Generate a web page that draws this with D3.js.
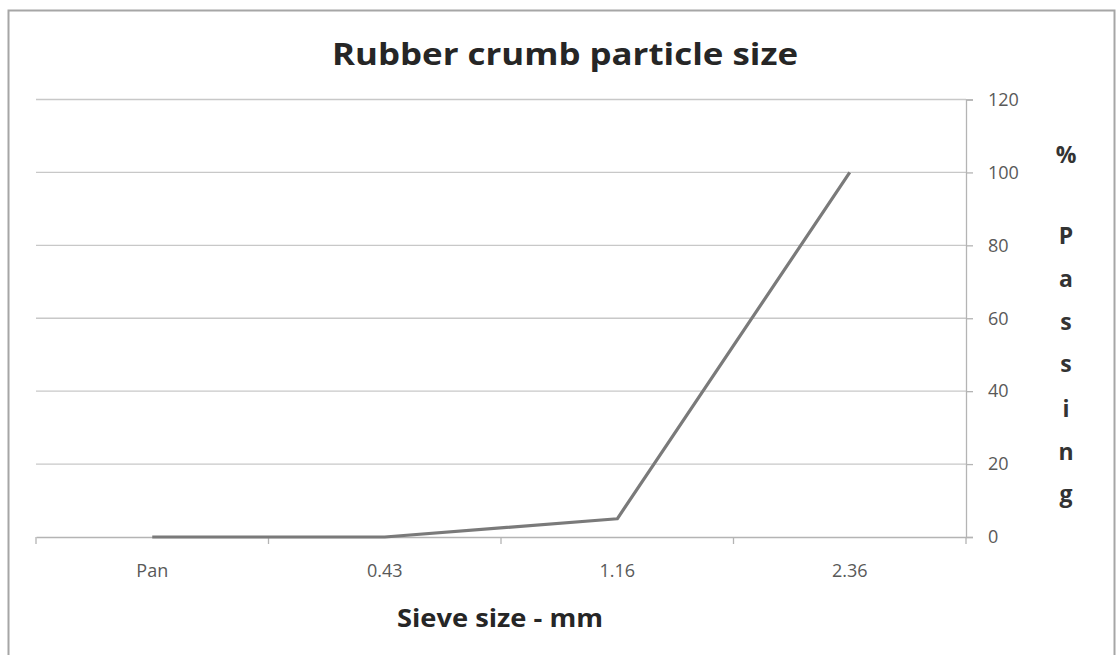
<!DOCTYPE html>
<html><head><meta charset="utf-8">
<script src="https://cdn.jsdelivr.net/npm/d3@7"></script>
<style>body{margin:0;background:#fff}svg{display:block}</style>
</head><body>
<svg id="c" width="1119" height="655"></svg>
<script>
const categories = ["Pan", "0.43", "1.16", "2.36"];
const passing = [0, 0, 5, 100];
const yTicks = [0, 20, 40, 60, 80, 100, 120];
const title = "Rubber crumb particle size";
const xTitle = "Sieve size - mm";
const yTitleLetters = ["%", "P", "a", "s", "s", "i", "n", "g"];

const svg = d3.select("#c");
const font = "'Open Sans', Lato, sans-serif";
const L = 36, R = 966, T = 99.5, B = 537;

svg.append("rect").attr("x", 8.5).attr("y", 10.5).attr("width", 1106).attr("height", 660)
  .attr("fill", "#fff").attr("stroke", "#a6a6a6").attr("stroke-width", 2);

const x = d3.scaleBand().domain(categories).range([L, R]);
const y = d3.scaleLinear().domain([0, 120]).range([B, T]);

// gridlines
svg.append("g").selectAll("line").data(yTicks.filter(d => d > 0)).join("line")
  .attr("x1", L).attr("x2", R).attr("y1", d => y(d)).attr("y2", d => y(d))
  .attr("stroke", "#c8c8c8").attr("stroke-width", 1.3);

// right y axis
const ya = svg.append("g").attr("transform", `translate(${R},0)`)
  .call(d3.axisRight(y).tickValues(yTicks).tickSize(7).tickPadding(15));
ya.select(".domain").attr("stroke", "#b4b4b4").attr("stroke-width", 1.3);
ya.selectAll(".tick line").attr("stroke", "#b4b4b4").attr("stroke-width", 1.3);
ya.selectAll(".tick text").attr("font-family", font).attr("font-size", 18).attr("fill", "#595959");

// bottom x axis
const xa = svg.append("g").attr("transform", `translate(0,${B})`)
  .call(d3.axisBottom(x).tickSize(0).tickPadding(27));
xa.select(".domain").attr("stroke", "#b4b4b4").attr("stroke-width", 1.3);
xa.selectAll(".tick text").attr("font-family", font).attr("font-size", 18).attr("fill", "#595959");
// boundary ticks
const bounds = categories.map(c => x(c)).concat([R]);
svg.append("g").selectAll("line").data(bounds).join("line")
  .attr("x1", d => d).attr("x2", d => d).attr("y1", B).attr("y2", B + 7)
  .attr("stroke", "#b4b4b4").attr("stroke-width", 1.3);

// line
const line = d3.line().x((d, i) => x(categories[i]) + x.bandwidth() / 2).y(d => y(d));
svg.append("path").datum(passing).attr("d", line)
  .attr("fill", "none").attr("stroke", "#7a7a7a").attr("stroke-width", 3.2).attr("stroke-linejoin", "round");

// titles
svg.append("text").attr("x", 565).attr("y", 65).attr("text-anchor", "middle")
  .attr("font-family", font).attr("font-weight", "bold").attr("font-size", 31)
  .attr("textLength", 466).attr("lengthAdjust", "spacingAndGlyphs")
  .attr("fill", "#262626").text(title);
svg.append("text").attr("x", 500).attr("y", 627).attr("text-anchor", "middle")
  .attr("font-family", font).attr("font-weight", "bold").attr("font-size", 25)
  .attr("textLength", 206).attr("lengthAdjust", "spacingAndGlyphs")
  .attr("fill", "#262626").text(xTitle);
const ys = [163, 244, 287, 330, 372, 417, 460, 502];
svg.append("g").selectAll("text").data(yTitleLetters).join("text")
  .attr("x", 1066).attr("y", (d, i) => ys[i]).attr("text-anchor", "middle")
  .attr("font-family", font).attr("font-weight", "bold").attr("font-size", 23).attr("fill", "#333")
  .text(d => d);
</script>
</body></html>
